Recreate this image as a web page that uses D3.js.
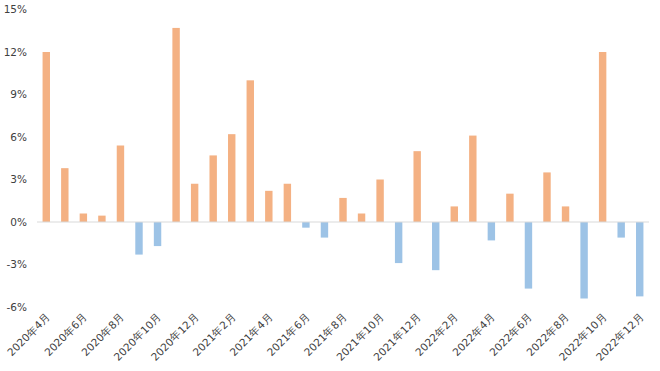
<!DOCTYPE html>
<html>
<head>
<meta charset="utf-8">
<script src="https://cdn.jsdelivr.net/npm/d3@7"></script>
<style>
  body { margin: 0; background: #fff; }
  text { font-family: "DejaVu Sans", Verdana, sans-serif; fill: #404040; }
</style>
</head>
<body>
<script>
// months shown on the chart, 2020/4 .. 2022/12
var months = [
    "2020年4月", "2020年5月", "2020年6月", "2020年7月", "2020年8月", "2020年9月",
    "2020年10月", "2020年11月", "2020年12月",
    "2021年1月", "2021年2月", "2021年3月", "2021年4月", "2021年5月", "2021年6月",
    "2021年7月", "2021年8月", "2021年9月", "2021年10月", "2021年11月", "2021年12月",
    "2022年1月", "2022年2月", "2022年3月", "2022年4月", "2022年5月", "2022年6月",
    "2022年7月", "2022年8月", "2022年9月", "2022年10月", "2022年11月", "2022年12月"
]
// values in percent
var values = [
    12.0, 3.8, 0.6, 0.45, 5.4, -2.3, -1.7, 13.7, 2.7,
    4.7, 6.2, 10.0, 2.2, 2.7, -0.4, -1.1, 1.7, 0.6, 3.0, -2.9, 5.0,
    -3.4, 1.1, 6.1, -1.3, 2.0, -4.7, 3.5, 1.1, -5.4, 12.0, -1.1, -5.25
]
var yTicks = [-6, -3, 0, 3, 6, 9, 12, 15]
// only every second month gets a label
var xLabels = months.filter(function (d, i) { return i % 2 === 0; })

var width = 660
var height = 371
var margin = { top: 9.5, left: 37, right: 11, bottom: 64 }

var svg = d3.select("body").append("svg")
    .attr("width", width)
    .attr("height", height);

var xScale = d3.scaleBand()
    .domain(months)
    .range([margin.left, width - margin.right])
    .paddingInner(0.6)
    .paddingOuter(0.3);

var yScale = d3.scaleLinear()
    .domain([-6, 15])
    .range([height - margin.bottom, margin.top]);

// y axis: labels only
var yAxis = d3.axisLeft(yScale)
    .tickValues(yTicks)
    .tickSize(0)
    .tickPadding(10)
    .tickFormat(function (d) { return d + "%"; });

svg.append("g")
    .attr("class", "y-axis")
    .attr("transform", "translate(" + margin.left + ",0)")
    .call(yAxis)
    .call(function (g) { g.select(".domain").remove(); })
    .selectAll("text")
    .style("font-size", "10.5px");

// bars
svg.append("g")
    .selectAll("rect")
    .data(values)
    .enter()
    .append("rect")
    .attr("x", function (d, i) { return xScale(months[i]); })
    .attr("y", function (d) { return yScale(Math.max(0, d)); })
    .attr("width", xScale.bandwidth())
    .attr("height", function (d) { return Math.abs(yScale(d) - yScale(0)); })
    .style("fill", function (d) { return d >= 0 ? "#F4B183" : "#9DC3E6"; });

// zero line
svg.append("line")
    .attr("x1", margin.left)
    .attr("x2", width - margin.right)
    .attr("y1", yScale(0))
    .attr("y2", yScale(0))
    .style("stroke", "#D9D9D9")
    .style("stroke-width", 1);

// x axis labels at the bottom, rotated
var xAxis = d3.axisBottom(xScale)
    .tickValues(xLabels)
    .tickSize(0)
    .tickPadding(0);

svg.append("g")
    .attr("class", "x-axis")
    .attr("transform", "translate(0," + (yScale(-6) + 10) + ")")
    .call(xAxis)
    .call(function (g) { g.select(".domain").remove(); })
    .selectAll("text")
    .style("font-size", "10.5px")
    .style("text-anchor", "end")
    .attr("dy", "0.35em")
    .attr("dx", "0")
    .attr("y", 0)
    .attr("x", 3)
    .attr("transform", "rotate(-45)");
</script>
</body>
</html>
